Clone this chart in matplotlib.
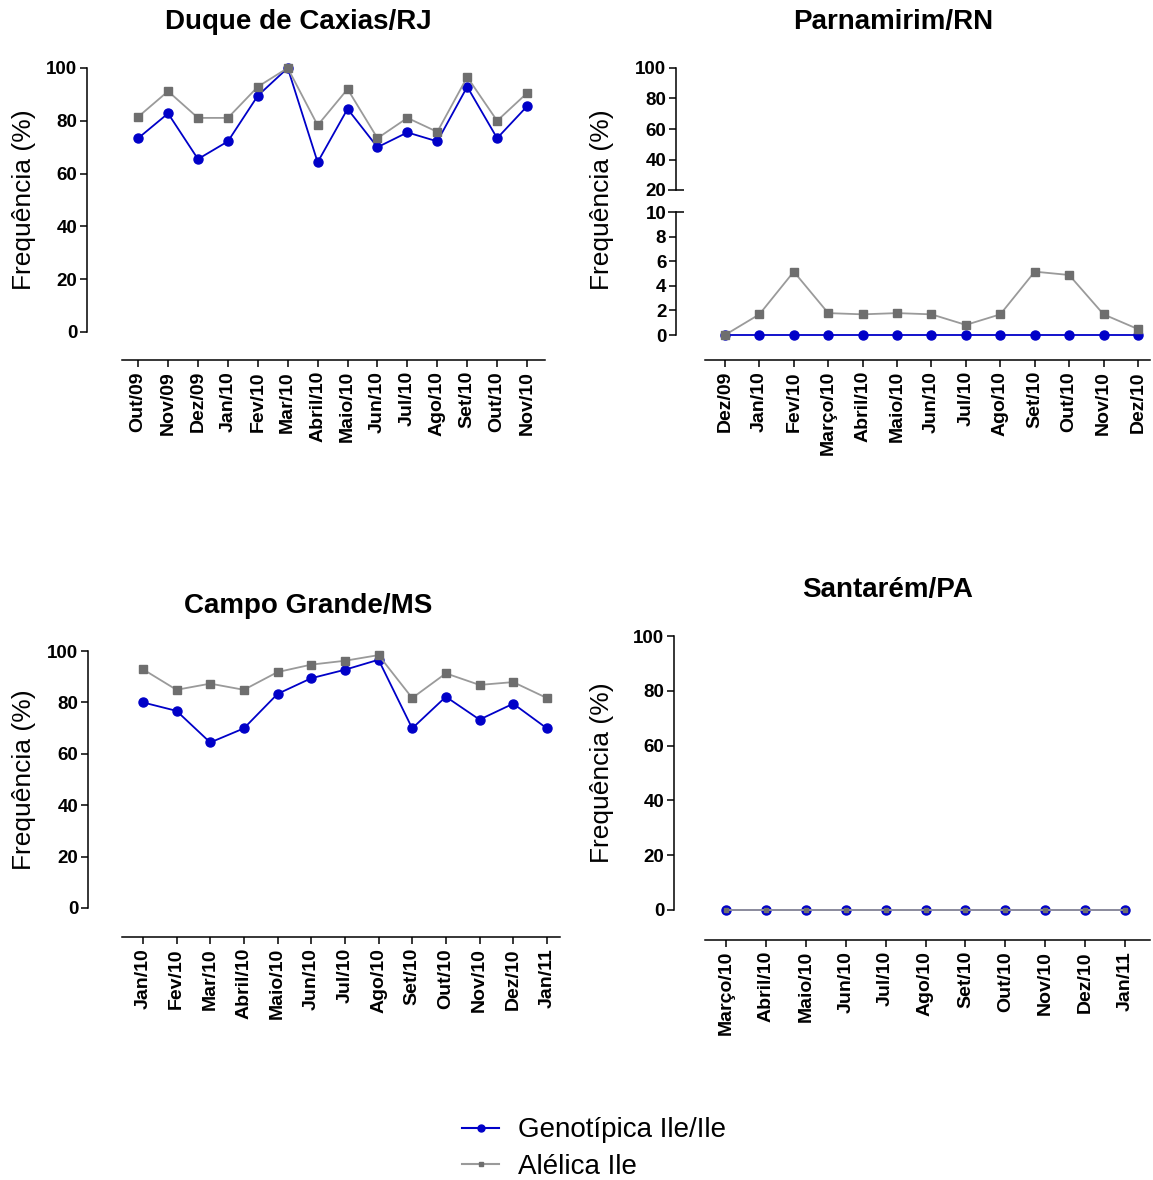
import matplotlib
matplotlib.use("Agg")
import matplotlib.pyplot as plt
from matplotlib.lines import Line2D

plt.rcParams['font.family'] = ['Liberation Sans', 'DejaVu Sans']

W, H = 1153, 1180
PT = 0.72  # points per pixel at dpi 100
BLUE = '#0000c8'
GRAY_LINE = '#9a9a9a'
GRAY_MK = '#6e6e6e'

# ---- data ----
caxias_meses = ['Out/09', 'Nov/09', 'Dez/09', 'Jan/10', 'Fev/10', 'Mar/10', 'Abril/10',
                'Maio/10', 'Jun/10', 'Jul/10', 'Ago/10', 'Set/10', 'Out/10', 'Nov/10']
caxias_geno = [73.4, 82.8, 65.5, 72.2, 89.5, 100.0, 64.3, 84.5, 70.0, 75.6, 72.2, 92.9, 73.4, 85.5]
caxias_alel = [81.5, 91.2, 81.1, 81.1, 92.9, 100.0, 78.3, 92.0, 73.4, 81.1, 75.8, 96.6, 80.0, 90.5]

parna_meses = ['Dez/09', 'Jan/10', 'Fev/10', 'Março/10', 'Abril/10', 'Maio/10', 'Jun/10',
               'Jul/10', 'Ago/10', 'Set/10', 'Out/10', 'Nov/10', 'Dez/10']
parna_geno = [0, 0, 0, 0, 0, 0, 0, 0, 0, 0, 0, 0, 0]
parna_alel = [0.0, 1.68, 5.15, 1.78, 1.68, 1.78, 1.68, 0.82, 1.68, 5.15, 4.88, 1.68, 0.48]

campo_meses = ['Jan/10', 'Fev/10', 'Mar/10', 'Abril/10', 'Maio/10', 'Jun/10', 'Jul/10',
               'Ago/10', 'Set/10', 'Out/10', 'Nov/10', 'Dez/10', 'Jan/11']
campo_geno = [80.0, 76.7, 64.4, 69.9, 83.3, 89.4, 92.7, 96.6, 69.9, 82.2, 73.3, 79.5, 69.9]
campo_alel = [92.9, 84.9, 87.3, 84.9, 91.8, 94.7, 96.2, 98.4, 81.7, 91.3, 86.8, 87.9, 81.7]

santa_meses = ['Março/10', 'Abril/10', 'Maio/10', 'Jun/10', 'Jul/10', 'Ago/10', 'Set/10',
               'Out/10', 'Nov/10', 'Dez/10', 'Jan/11']
santa_geno = [0] * 11
santa_alel = [0] * 11

LEG_GENO = 'Genotípica Ile/Ile'
LEG_ALEL = 'Alélica Ile'
YLABEL = 'Frequência (%)'

fig = plt.figure(figsize=(W / 100, H / 100), dpi=100)


def rect(left, right, top, bottom):
    return [left / W, 1 - bottom / H, (right - left) / W, (bottom - top) / H]


def style(ax, spine_out_px, show_x=True):
    for s in ['top', 'right']:
        ax.spines[s].set_visible(False)
    ax.spines['left'].set_position(('outward', spine_out_px * PT))
    ax.spines['left'].set_linewidth(1.1)
    ax.spines['bottom'].set_linewidth(1.1)
    ax.tick_params(axis='y', labelsize=13.5, width=1.1, length=5, pad=2)
    for lab in ax.get_yticklabels():
        lab.set_fontweight('bold')
    if not show_x:
        ax.spines['bottom'].set_visible(False)
        ax.tick_params(axis='x', bottom=False, labelbottom=False)


def series(ax, meses, geno, alel, sq=5.2):
    x = range(len(meses))
    ax.plot(x, geno, color=BLUE, lw=1.3, marker='o', ms=6.5, mec=BLUE, mfc=BLUE,
            clip_on=False, zorder=3)
    ax.plot(x, alel, color=GRAY_LINE, lw=1.3, marker='s', ms=sq, mec=GRAY_MK, mfc=GRAY_MK,
            clip_on=False, zorder=4)


def xaxis(ax, meses, out_px):
    ax.spines['bottom'].set_position(('outward', out_px * PT))
    ax.set_xticks(range(len(meses)))
    ax.set_xticklabels(meses, rotation=90, fontsize=14, fontweight='bold')
    ax.tick_params(axis='x', width=1.1, length=5, pad=3)


def simple_panel(r, meses, geno, alel, xl, spine_out, x_out, sq=5.2):
    ax = fig.add_axes(rect(*r))
    series(ax, meses, geno, alel, sq)
    ax.set_ylim(0, 100)
    ax.set_yticks([0, 20, 40, 60, 80, 100])
    ax.set_xlim(*xl)
    ax.spines['left'].set_bounds(0, 100)
    xaxis(ax, meses, x_out)
    style(ax, spine_out)
    return ax


# Duque de Caxias
simple_panel((122, 545, 68, 332), caxias_meses, caxias_geno, caxias_alel,
             (-0.54, 13.6), 35, 28)
# Campo Grande
simple_panel((122, 560, 651, 908), campo_meses, campo_geno, campo_alel,
             (-0.62, 12.39), 34, 29)
# Santarem
simple_panel((705, 1150, 636, 910), santa_meses, santa_geno, santa_alel,
             (-0.53, 10.63), 31, 30, sq=3.2)

# Parnamirim (broken y axis)
xl_p = (-0.58, 12.35)
ax_lo = fig.add_axes(rect(705, 1150, 212, 335))
series(ax_lo, parna_meses, parna_geno, parna_alel)
ax_lo.set_ylim(0, 10)
ax_lo.set_yticks([0, 2, 4, 6, 8])
ax_lo.set_yticks([10], labels=['10'], minor=True)
ax_lo.set_xlim(*xl_p)
ax_lo.spines['left'].set_bounds(0, 10)
xaxis(ax_lo, parna_meses, 25)
style(ax_lo, 29)

ax_hi = fig.add_axes(rect(705, 1150, 68, 190))
ax_hi.set_ylim(20, 100)
ax_hi.set_yticks([40, 60, 80, 100])
ax_hi.set_yticks([20], labels=['20'], minor=True)
ax_hi.set_xlim(*xl_p)
ax_hi.spines['left'].set_bounds(20, 100)
style(ax_hi, 29, show_x=False)

for a in (ax_lo, ax_hi):
    a.tick_params(axis='y', which='minor', direction='inout', length=11, width=1.1,
                  labelsize=13.5, pad=1.5)
    for lab in a.get_yticklabels(minor=True):
        lab.set_fontweight('bold')

# titles
fig.text(298 / W, 1 - 22 / H, 'Duque de Caxias/RJ', ha='center', va='center',
         fontsize=20, fontweight='bold')
fig.text(893 / W, 1 - 22 / H, 'Parnamirim/RN', ha='center', va='center',
         fontsize=20, fontweight='bold')
fig.text(308 / W, 1 - 606 / H, 'Campo Grande/MS', ha='center', va='center',
         fontsize=20, fontweight='bold')
fig.text(888 / W, 1 - 590 / H, 'Santarém/PA', ha='center', va='center',
         fontsize=20, fontweight='bold')

# y labels
for (x, y) in [(24, 200), (602, 200), (24, 780), (602, 773)]:
    fig.text(x / W, 1 - y / H, YLABEL, rotation=90, ha='center', va='center',
             fontsize=19)

# legend
handles = [Line2D([], [], color=BLUE, lw=1.5, marker='o', ms=5, mfc=BLUE, mec=BLUE),
           Line2D([], [], color=GRAY_LINE, lw=1.5, marker='s', ms=3, mfc=GRAY_MK, mec=GRAY_MK)]
fig.legend(handles, [LEG_GENO, LEG_ALEL], loc='upper left',
           bbox_to_anchor=(443 / W, 1 - 1098 / H), frameon=False, fontsize=20,
           handlelength=1.3, handletextpad=0.7, labelspacing=0.38, borderpad=0.2)

fig.savefig('out.png', dpi=100)
